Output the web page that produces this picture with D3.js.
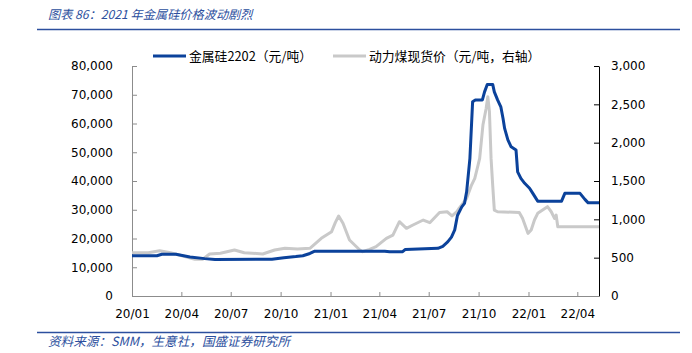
<!DOCTYPE html>
<html>
<head>
<meta charset="utf-8">
<script src="https://cdn.jsdelivr.net/npm/d3@7"></script>
<style>
  body { margin: 0; background: #fff; }
  svg { display: block; }
  .tick text { font-family: "DejaVu Sans", sans-serif; font-size: 12px; fill: #000; }
</style>
</head>
<body>
<svg id="chart"></svg>
<script>
// 金属硅2202 (元/吨), left axis
const siDates = ['2020-01-01','2020-02-16','2020-02-25','2020-03-22','2020-04-17','2020-05-14','2020-06-02',
  '2020-09-15','2020-10-07','2020-10-29','2020-11-11','2020-11-24','2020-12-03','2021-04-11','2021-04-20',
  '2021-05-14','2021-05-19','2021-07-18','2021-07-27','2021-08-05','2021-08-12','2021-08-18','2021-08-23',
  '2021-08-31','2021-09-05','2021-09-09','2021-09-15','2021-09-20','2021-09-25','2021-10-08','2021-10-12',
  '2021-10-17','2021-10-27','2021-10-30','2021-11-05','2021-11-11','2021-11-15','2021-11-18','2021-11-24',
  '2021-11-30','2021-12-09','2021-12-12','2021-12-18','2021-12-25','2022-01-03','2022-01-09','2022-01-18',
  '2022-03-03','2022-03-09','2022-04-06','2022-04-15','2022-04-21','2022-05-11'];
const siValues = [14000,14000,14500,14500,13600,13000,12700,
  12800,13300,13700,14000,14800,15600,15600,15400,
  15400,16200,16600,17300,18800,20500,23000,28000,
  31000,32200,36300,47900,67600,68200,68200,71000,
  73600,73600,71000,68200,65800,61800,58300,54300,
  51900,50800,43200,40900,39200,37500,35700,33000,
  33000,35700,35700,33600,32400,32400];

// 动力煤现货价 (元/吨), right axis
const coalDates = ['2020-01-01','2020-01-31','2020-02-21','2020-03-12','2020-04-04','2020-04-26','2020-05-10',
  '2020-05-23','2020-06-12','2020-07-08','2020-07-26','2020-08-29','2020-09-20','2020-10-09','2020-11-01',
  '2020-11-24','2020-12-15','2021-01-03','2021-01-10','2021-01-16','2021-01-24','2021-02-05','2021-02-24',
  '2021-03-01','2021-03-14','2021-03-26','2021-04-14','2021-04-26','2021-05-08','2021-05-21','2021-06-02',
  '2021-06-21','2021-07-03','2021-07-21','2021-08-04','2021-08-13','2021-08-22','2021-08-26','2021-09-09',
  '2021-09-18','2021-09-24','2021-09-30','2021-10-03','2021-10-09','2021-10-15','2021-10-18','2021-10-21',
  '2021-10-24','2021-10-27','2021-10-30','2021-11-05','2021-12-15','2021-12-21','2021-12-31','2022-01-06',
  '2022-01-12','2022-01-18','2022-01-27','2022-02-05','2022-02-12','2022-02-18','2022-02-21','2022-02-24',
  '2022-05-11'];
const coalValues = [565,565,590,565,522,478,478,
  548,557,600,565,548,600,622,613,
  622,752,839,960,1043,948,730,600,
  578,609,643,752,795,969,883,926,
  991,956,1090,1099,1045,1100,1143,1274,
  1447,1535,1708,1795,2230,2448,2600,2404,
  1795,1447,1121,1099,1090,1013,817,861,
  991,1078,1121,1165,1099,1013,1056,904,
  904];

const leftTicks = [0,10000,20000,30000,40000,50000,60000,70000,80000];
const rightTicks = [0,500,1000,1500,2000,2500,3000];

const title = '图表 86：2021 年金属硅价格波动剧烈';
const source = '资料来源：SMM，生意社，国盛证券研究所';
const legendNames = ['金属硅2202（元/吨）', '动力煤现货价（元/吨，右轴）'];

const W = 692, H = 353;
const blue = '#0b429b', grey = '#c9c9c9', titleBlue = '#2c4f9e';
const cjk = '"Noto Sans CJK SC", sans-serif';

const svg = d3.select('#chart').attr('width', W).attr('height', H);

const parse = d3.timeParse('%Y-%m-%d');
const si = siDates.map((d, i) => ({ date: parse(d), value: siValues[i] }));
const coal = coalDates.map((d, i) => ({ date: parse(d), value: coalValues[i] }));

const x = d3.scaleTime().domain([parse('2020-01-01'), parse('2022-05-11')]).range([132, 599]);
const yL = d3.scaleLinear().domain([0, 80000]).range([296, 66]);
const yR = d3.scaleLinear().domain([0, 3000]).range([296, 66]);

// title + rules
svg.append('text').attr('x', 48).attr('y', 19)
  .attr('font-family', cjk).attr('font-size', 12.2).attr('font-style', 'italic')
  .attr('fill', titleBlue).text(title);
svg.append('line').attr('x1', 37).attr('x2', 680).attr('y1', 29.5).attr('y2', 29.5)
  .attr('stroke', titleBlue).attr('stroke-width', 1.5);
svg.append('line').attr('x1', 37).attr('x2', 680).attr('y1', 332.5).attr('y2', 332.5)
  .attr('stroke', titleBlue).attr('stroke-width', 1.5);
svg.append('text').attr('x', 48).attr('y', 346)
  .attr('font-family', cjk).attr('font-size', 12.6).attr('font-style', 'italic')
  .attr('fill', titleBlue).text(source);

// axes
const fmt = d3.format(',');
svg.append('g').attr('transform', 'translate(132,0)')
  .call(d3.axisLeft(yL).tickValues(leftTicks).tickFormat(fmt).tickSizeInner(-5).tickSizeOuter(0).tickPadding(19))
  .call(g => g.selectAll('line,path').attr('stroke', '#8c8c8c'));

svg.append('g').attr('transform', 'translate(599,0)')
  .call(d3.axisRight(yR).tickValues(rightTicks).tickFormat(fmt).tickSizeInner(-5).tickSizeOuter(0).tickPadding(12))
  .call(g => g.selectAll('line,path').attr('stroke', '#000'));

svg.append('g').attr('transform', 'translate(0,296)')
  .call(d3.axisBottom(x).ticks(d3.timeMonth.every(3)).tickFormat(d3.timeFormat('%y/%m'))
    .tickSizeInner(-4).tickSizeOuter(0).tickPadding(13))
  .call(g => g.selectAll('line,path').attr('stroke', '#8c8c8c'));

// lines
const lineL = d3.line().x(d => x(d.date)).y(d => yL(d.value));
const lineR = d3.line().x(d => x(d.date)).y(d => yR(d.value));

svg.append('path').datum(coal).attr('d', lineR)
  .attr('fill', 'none').attr('stroke', grey).attr('stroke-width', 3).attr('stroke-linejoin', 'round');
svg.append('path').datum(si).attr('d', lineL)
  .attr('fill', 'none').attr('stroke', blue).attr('stroke-width', 3).attr('stroke-linejoin', 'round');

// legend
const legend = [{ x: 153, color: blue, name: legendNames[0] }, { x: 333, color: grey, name: legendNames[1] }];
legend.forEach(l => {
  svg.append('line').attr('x1', l.x).attr('x2', l.x + 33).attr('y1', 56).attr('y2', 56)
    .attr('stroke', l.color).attr('stroke-width', 3);
  svg.append('text').attr('x', l.x + 36).attr('y', 60.5)
    .attr('font-family', cjk).attr('font-size', 12.8).attr('fill', '#000').text(l.name);
});
</script>
</body>
</html>
